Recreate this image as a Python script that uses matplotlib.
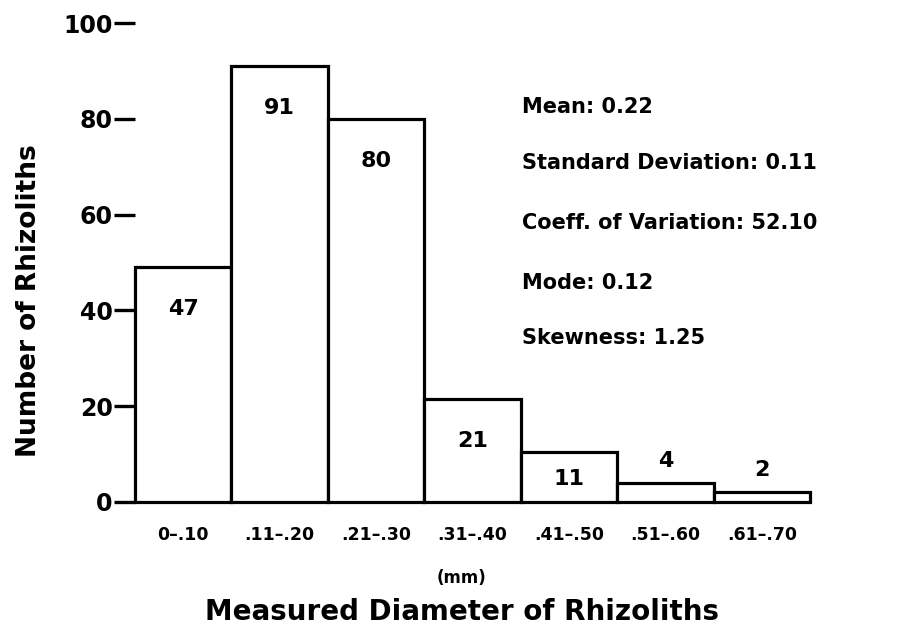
import matplotlib
matplotlib.use("Agg")
import matplotlib.pyplot as plt
import numpy as np

plt.rcParams['font.family'] = ['DejaVu Sans']

# diameter classes (mm) and counts
classes = ["0–.10", ".11–.20", ".21–.30", ".31–.40", ".41–.50", ".51–.60", ".61–.70"]
counts = [47, 91, 80, 21, 11, 4, 2]
# bar heights as drawn in the figure
heights = [49, 91, 80, 21.5, 10.5, 4, 2]

stats = ["Mean: 0.22",
         "Standard Deviation: 0.11",
         "Coeff. of Variation: 52.10",
         "Mode: 0.12",
         "Skewness: 1.25"]

fig = plt.figure(figsize=(9.2, 6.3), dpi=100)
ax = fig.add_axes([0.1467, 0.2032, 0.7337, 0.760])

x = np.arange(len(classes))
ax.bar(x, heights, width=1.0, align='edge', facecolor='white',
       edgecolor='black', linewidth=2.3, clip_on=False)

ax.set_xlim(0, 7)
ax.set_ylim(0, 100)
for s in ax.spines.values():
    s.set_visible(False)

ax.set_yticks([0, 20, 40, 60, 80, 100])
ax.tick_params(axis='y', direction='out', length=15, width=2.4, pad=1,
               labelsize=17)
for t in ax.get_yticklabels():
    t.set_fontweight('bold')

ax.set_xticks(x + 0.5)
ax.set_xticklabels(classes, fontsize=12.5, fontweight='bold')
ax.tick_params(axis='x', length=0, pad=17)

# count labels
for xi, h, c in zip(x, heights, counts):
    if h > 15:
        off = -30
    elif h > 8:
        off = -20
    else:
        off = 16
    ax.annotate(str(c), (xi + 0.5, h), xytext=(0, off), textcoords='offset points',
                ha='center', va='center', fontsize=16, fontweight='bold')

# summary statistics
ys = [0.830, 0.741, 0.646, 0.551, 0.464]
for s, yy in zip(stats, ys):
    fig.text(0.567, yy, s, fontsize=15, fontweight='bold', va='center', ha='left')

ax.set_ylabel("Number of Rhizoliths", fontsize=19, fontweight='bold')
ax.yaxis.set_label_coords(-0.137, 0.42)
fig.text(0.502, 0.083, "(mm)", fontsize=12, fontweight='bold', ha='center', va='center')
fig.text(0.502, 0.028, "Measured Diameter of Rhizoliths", fontsize=20,
         fontweight='bold', ha='center', va='center')

fig.savefig("out.png", dpi=100, facecolor='white')
